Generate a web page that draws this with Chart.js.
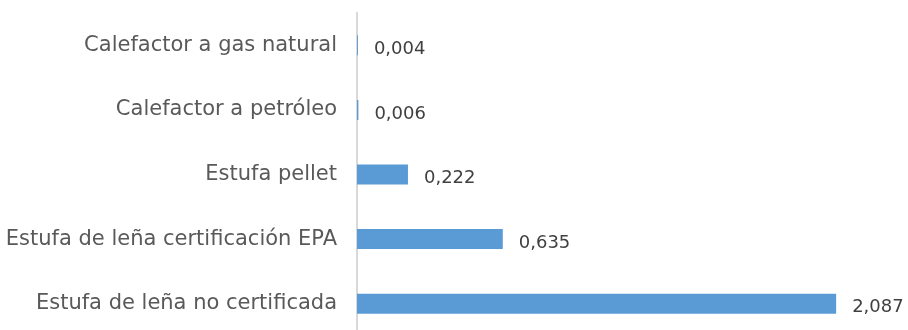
<!DOCTYPE html>
<html>
<head>
<meta charset="utf-8">
<script src="https://cdn.jsdelivr.net/npm/chart.js@4/dist/chart.umd.min.js"></script>
<style>
  html, body { margin:0; padding:0; background:#fff; overflow:hidden; }
  #wrap { position:relative; width:908px; height:337px; }
</style>
</head>
<body>
<div id="wrap"><canvas id="chart-emissions"></canvas></div>
<script>
// ── data ──
const categories = [
  'Calefactor a gas natural',
  'Calefactor a petróleo',
  'Estufa pellet',
  'Estufa de leña certificación EPA',
  'Estufa de leña no certificada',
];
const emissions = [0.004, 0.006, 0.222, 0.635, 2.087];

const FONT = '"DejaVu Sans", sans-serif';
const fmt = v => v.toFixed(3).replace('.', ',');

// value labels just past the bar end
const valueLabels = {
  id: 'valueLabels',
  afterDatasetsDraw(chart) {
    const { ctx } = chart;
    const meta = chart.getDatasetMeta(0);
    ctx.save();
    ctx.font = '18px ' + FONT;
    ctx.fillStyle = '#404040';
    ctx.textAlign = 'left';
    ctx.textBaseline = 'middle';
    meta.data.forEach((bar, i) => {
      ctx.fillText(fmt(emissions[i]), bar.x + 16, bar.y + 4);
    });
    ctx.restore();
  }
};

document.addEventListener('DOMContentLoaded', () => {
  const ctx = document.getElementById('chart-emissions');
  new Chart(ctx, {
    type: 'bar',
    data: {
      labels: categories,
      datasets: [{
        data: emissions,
        backgroundColor: '#5B9BD5',
        borderWidth: 0,
        barPercentage: 0.31,
        categoryPercentage: 1,
      }],
    },
    options: {
      indexAxis: 'y',
      responsive: true, maintainAspectRatio: false,
      animation: false,
      layout: { padding: { top: 13, bottom: 1, left: 0, right: 0 } },
      plugins: { legend: { display: false }, tooltip: { enabled: false } },
      scales: {
        x: { display: false, min: 0, max: 2.4 },
        y: {
          // fixed axis position, no extra room above/below for the labels
          afterFit: s => { s.width = 357; s.paddingTop = 0; s.paddingBottom = 0; },
          grid: { display: false, drawTicks: false },
          border: { display: true, color: '#d9d9d9', width: 2 },
          ticks: { color: '#595959', font: { family: FONT, size: 21 }, padding: 20 },
        },
      },
    },
    plugins: [valueLabels],
  });
});
</script>
</body>
</html>
